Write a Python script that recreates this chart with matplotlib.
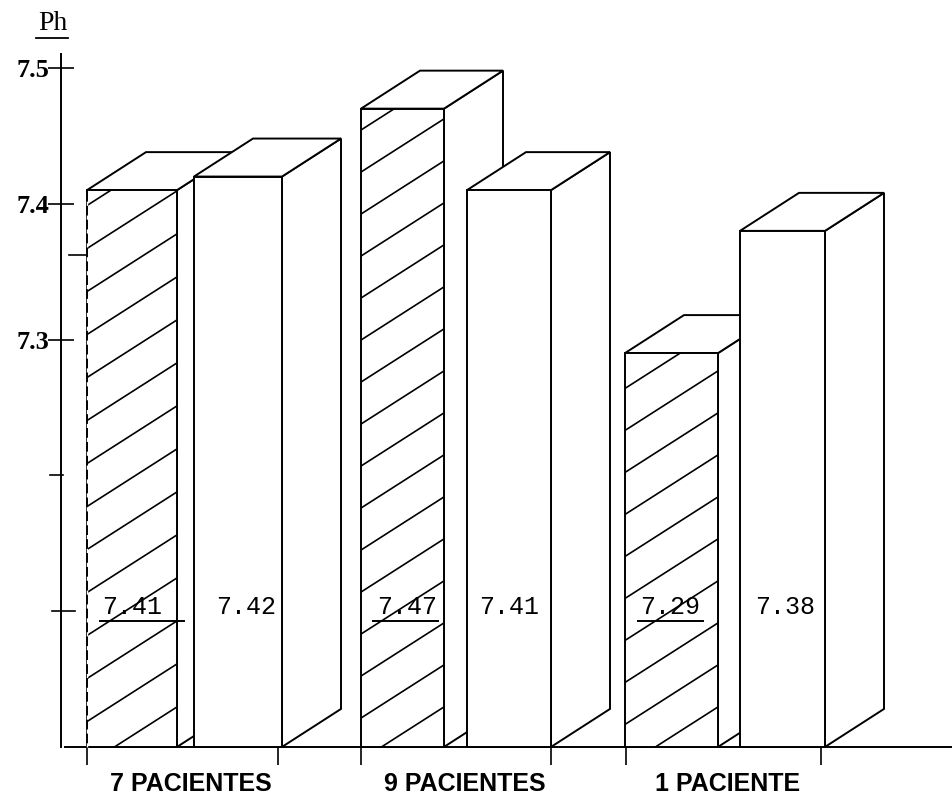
import matplotlib
matplotlib.use('Agg')
import matplotlib.pyplot as plt

#################################################################################
## data

group_labels = ['7 PACIENTES', '9 PACIENTES', '1 PACIENTE']
ph_values = [7.41, 7.42, 7.47, 7.41, 7.29, 7.38]
value_labels = ['7.41', '7.42', '7.47', '7.41', '7.29', '7.38']
hatched = [True, False, True, False, True, False]

#################################################################################
## layout (x axis runs in pixels, y axis in pH)

bar_left = [87, 194, 361, 467, 625, 740]
bar_right = [177, 282, 444, 551, 718, 825]
label_x = [132, 246, 407, 509, 670, 785]
underline_left = [100, 0, 373, 0, 638, 0]
underline_right = [184, 0, 438, 0, 703, 0]
group_centres = [191, 465, 728]
group_ticks = [87, 278, 361, 551, 626, 821]

ph_base = 7.0
px = 1/1358.0   # pH per pixel

depth_x = 59
depth_y = 38*px

hatch_first = 40*px
hatch_step = [43*px, 0, 42*px, 0, 42*px, 0]
hatch_slope = 0.64*px

line_w = 1.4

#################################################################################
## main code

fig = plt.figure(figsize=(9.52, 7.98), dpi=100)
ax = fig.add_axes([0, 0, 1, 1])
ax.set_xlim(0, 952)
ax.set_ylim(6.9624, 7.55)

for i in range(0, len(ph_values)):
    top = ph_values[i]
    left = bar_left[i]
    right = bar_right[i]
    z = 3 + i

    # right side and top faces
    ax.fill([right, right + depth_x, right + depth_x, right],
            [ph_base, ph_base + depth_y, top + depth_y, top],
            fc='white', ec='black', lw=line_w, zorder=z)
    ax.fill([left, right, right + depth_x, left + depth_x],
            [top, top, top + depth_y, top + depth_y],
            fc='white', ec='black', lw=line_w, zorder=z)

    # front face
    front = ax.bar(left, top - ph_base, right - left, bottom=ph_base, align='edge',
                   fc='white', ec='black', lw=line_w, zorder=z)[0]

    if hatched[i]:
        y_right = ph_base + hatch_first
        while y_right - hatch_slope*(right - left) < top:
            line, = ax.plot([left, right],
                            [y_right - hatch_slope*(right - left), y_right],
                            color='black', lw=1.2, zorder=z)
            line.set_clip_path(front)
            y_right = y_right + hatch_step[i]
        ax.plot([underline_left[i], underline_right[i]], [7.0 + 126*px]*2,
                color='black', lw=1.4, zorder=20)

    ax.text(label_x[i], 7.0 + 140*px, value_labels[i], ha='center', va='center',
            family=['Liberation Mono'], fontsize=18, color='black', zorder=20)

# left edge of the first bar is broken up
ax.plot([87, 87], [ph_base, ph_values[0] - 4*px], color='white', lw=1.0,
        linestyle=(0, (3, 7)), zorder=10)

# axes
for name in ['top', 'right']:
    ax.spines[name].set_visible(False)
ax.spines['left'].set_position(('data', 61))
ax.spines['left'].set_bounds(ph_base, 7.51)
ax.spines['left'].set_linewidth(line_w)
ax.spines['bottom'].set_position(('data', ph_base))
ax.spines['bottom'].set_bounds(65, 952)
ax.spines['bottom'].set_linewidth(line_w)

ax.set_yticks([7.3, 7.4, 7.5], ['7.3', '7.4', '7.5'])
ax.tick_params(axis='y', direction='inout', length=19, width=1.2, pad=-1)
for lab in ax.get_yticklabels():
    lab.set_family(['Liberation Serif'])
    lab.set_fontsize(19)
    lab.set_fontweight('bold')

ax.set_xticks(group_ticks, ['']*len(group_ticks))
ax.tick_params(axis='x', direction='out', length=13, width=1.2)

# short unlabelled marks on the pH axis
ax.plot([52, 75], [7.1, 7.1], color='black', lw=1.2)
ax.plot([50, 63], [7.2, 7.2], color='black', lw=1.2)
ax.plot([69, 87], [7.3626, 7.3626], color='black', lw=1.2)

for i in range(0, len(group_labels)):
    ax.text(group_centres[i], ph_base - 37*px, group_labels[i], ha='center', va='center',
            family=['Liberation Sans'], fontweight='bold', fontsize=18, color='black')

ax.text(53, 7.5 + 44*px, 'Ph', ha='center', va='center',
        family=['Liberation Serif'], fontsize=20, color='black')
ax.plot([36, 68], [7.5 + 30*px]*2, color='black', lw=1.3)

plt.savefig('out.png', dpi=100)
